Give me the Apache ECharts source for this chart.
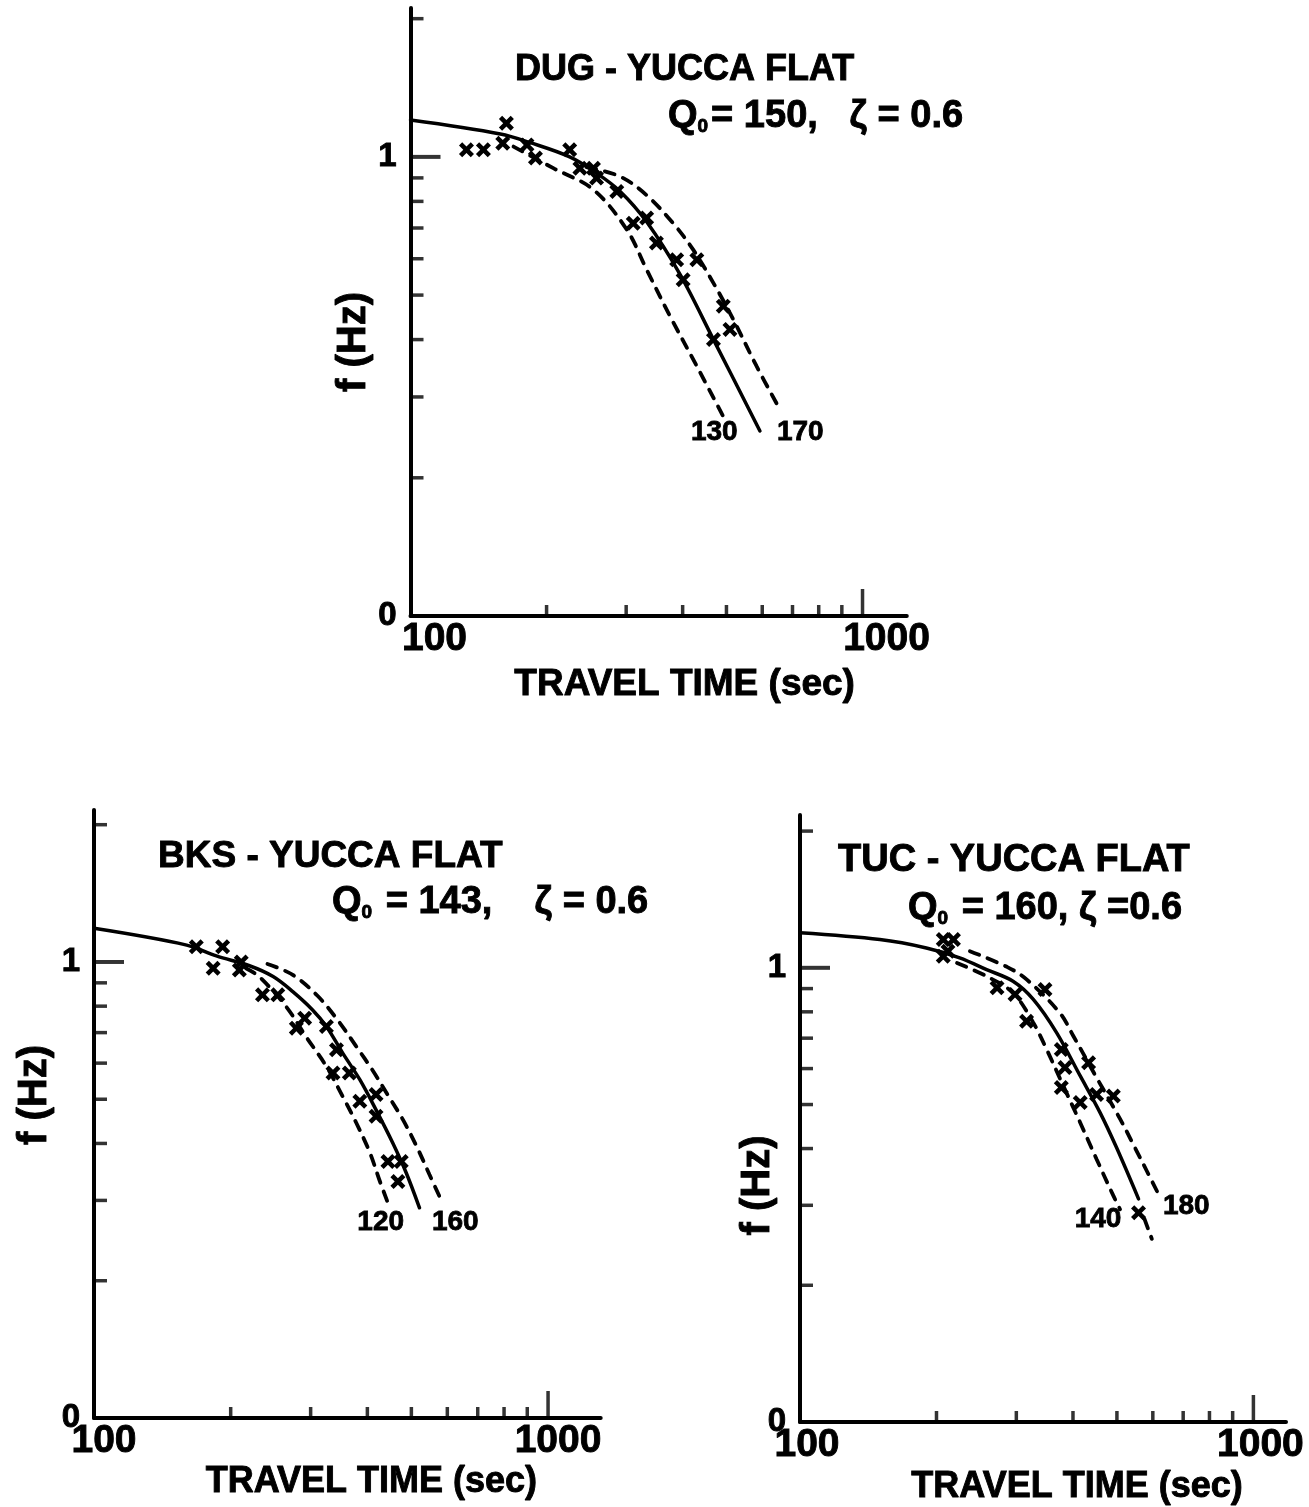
<!DOCTYPE html>
<html>
<head>
<meta charset="utf-8">
<script src="https://cdn.jsdelivr.net/npm/echarts@6.0.0/dist/echarts.min.js"></script>
<style>
  html, body { margin: 0; padding: 0; background: #ffffff; }
  #chart { width: 1309px; height: 1507px; }
</style>
</head>
<body>
<div id="chart"></div>
<script>
// ---- Axis decoration values (travel time in s, frequency in Hz) ----
const xMinorTicks = [200, 300, 400, 500, 600, 700, 800, 900];
const xMajorTicks = [1000];
const yMinorTicks = [0.2, 0.3, 0.4, 0.5, 0.6, 0.7, 0.8, 0.9, 2];
const yMajorTicks = [1];

// ---- DUG - Yucca Flat ----
const dugSolid = [[100, 1.203], [158, 1.122], [184, 1.074], [225, 1.0], [258, 0.922], [291, 0.841],
  [333, 0.722], [395, 0.554], [468, 0.40], [593, 0.253]];
const dugLow = [[169, 1.053], [207, 0.945], [254, 0.848], [301, 0.694], [333, 0.568], [375, 0.45],
  [430, 0.35], [492, 0.272]];
const dugHigh = [[245, 0.95], [291, 0.906], [333, 0.825], [381, 0.717], [422, 0.628], [468, 0.531],
  [518, 0.442], [583, 0.35], [651, 0.286]];
const dugObs = [[133, 1.036], [145, 1.036], [163, 1.184], [160, 1.071], [181, 1.062], [189, 0.994],
  [225, 1.036], [237, 0.945], [254, 0.945], [258, 0.899], [286, 0.841], [311, 0.717], [333, 0.736],
  [350, 0.649], [388, 0.597], [430, 0.597], [401, 0.54], [492, 0.473], [509, 0.421], [468, 0.40]];

// ---- BKS - Yucca Flat ----
const bksSolid = [[100, 1.185], [160, 1.089], [186, 1.031], [220, 0.981], [248, 0.929], [274, 0.861],
  [303, 0.785], [325, 0.722], [353, 0.631], [385, 0.552], [418, 0.474], [455, 0.401], [487, 0.345],
  [521, 0.289]];
const bksLow = [[216, 0.969], [231, 0.929], [265, 0.798], [293, 0.686], [325, 0.59], [353, 0.507],
  [378, 0.444], [405, 0.382], [425, 0.333], [448, 0.289]];
const bksHigh = [[241, 0.99], [274, 0.937], [311, 0.842], [344, 0.746], [378, 0.653], [411, 0.578],
  [448, 0.503], [479, 0.451], [513, 0.395], [548, 0.342], [582, 0.30]];
const bksObs = [[168, 1.08], [192, 1.08], [183, 0.969], [211, 1.0], [209, 0.96], [235, 0.847],
  [254, 0.847], [279, 0.716], [291, 0.753], [325, 0.722], [342, 0.642], [336, 0.571], [365, 0.571],
  [385, 0.495], [418, 0.512], [418, 0.459], [444, 0.365], [475, 0.365], [467, 0.33]];

// ---- TUC - Yucca Flat ----
const tucSolid = [[100, 1.194], [150, 1.154], [190, 1.106], [225, 1.052], [258, 0.991], [295, 0.934],
  [327, 0.852], [368, 0.72], [415, 0.578], [459, 0.48], [499, 0.402], [558, 0.31]];
const tucSolidTail = [[575, 0.28], [597, 0.253]];
const tucLow = [[222, 1.025], [258, 0.958], [295, 0.881], [327, 0.757], [350, 0.661], [381, 0.549],
  [415, 0.456], [451, 0.379], [491, 0.315], [508, 0.294]];
const tucHigh = [[237, 1.088], [286, 1.005], [316, 0.943], [374, 0.796], [401, 0.707], [451, 0.573],
  [508, 0.465], [543, 0.409], [582, 0.357], [617, 0.318]];
const tucObs = [[207, 1.154], [218, 1.154], [212, 1.088], [207, 1.06], [272, 0.904], [298, 0.874],
  [316, 0.763], [347, 0.896], [377, 0.661], [384, 0.603], [377, 0.545], [433, 0.618], [415, 0.505],
  [451, 0.526], [491, 0.522], [558, 0.289]];

const INK = '#000000';
const FONT = '"Liberation Sans", Arial, "DejaVu Sans", sans-serif';
// heavier lettering: fill plus a thin outline in the same ink
const HEAVY = { textBorderColor: INK, textBorderWidth: 0.9 };
// bold hand-lettered cross used for the observations
const CROSS = 'path://M0,3 L3,0 L7,4 L11,0 L14,3 L10,7 L14,11 L11,14 L7,10 L3,14 L0,11 L4,7 Z';

const panels = [
  {
    box: { left: 410.5, top: 8, width: 496.3, height: 608 }, xMax: 1253, yMax: 2.11,
    title: 'DUG - YUCCA FLAT', titleSize: 36, titlePos: [515, 52],
    sub: '= 150,   ζ = 0.6', subPos: [668, 98],
    solid: dugSolid, tail: null, low: dugLow, high: dugHigh, obs: dugObs,
    lowText: '130', highText: '170', lowOff: [-9, 16], highOff: [22, 26],
    xLabelShift: 24, xNameShift: 26, xNameGap: 50, xNameSize: 37, yNameGap: 37, yNameShift: 30
  },
  {
    box: { left: 94, top: 810, width: 506.7, height: 608 }, xMax: 1306, yMax: 2.154,
    title: 'BKS - YUCCA FLAT', titleSize: 37, titlePos: [158, 838],
    sub: ' = 143,    ζ = 0.6', subPos: [332, 884],
    solid: bksSolid, tail: null, low: bksLow, high: bksHigh, obs: bksObs,
    lowText: '120', highText: '160', lowOff: [-9, 14], highOff: [14, 22],
    xLabelShift: 10, xNameShift: 24, xNameGap: 46, xNameSize: 36, yNameGap: 39, yNameShift: -19
  },
  {
    box: { left: 800, top: 815, width: 486, height: 607 }, xMax: 1180, yMax: 2.17,
    title: 'TUC - YUCCA FLAT', titleSize: 38, titlePos: [838, 842],
    sub: ' = 160, ζ =0.6', subPos: [908, 890],
    solid: tucSolid, tail: tucSolidTail, low: tucLow, high: tucHigh, obs: tucObs,
    lowText: '140', highText: '180', lowOff: [-22, 10], highOff: [28, 12],
    xLabelShift: 7, xNameShift: 34, xNameGap: 47, xNameSize: 36, yNameGap: 22, yNameShift: 67
  }
];

function near(v, target) { return Math.abs(v - target) / target < 1e-6; }

const grids = [], xAxes = [], yAxes = [], series = [], titles = [];

panels.forEach((p, i) => {
  grids.push(Object.assign({ containLabel: false, outerBoundsMode: 'none' }, p.box));

  xAxes.push({
    type: 'log', logBase: 10, gridIndex: i, min: 100, max: p.xMax,
    axisLine: { show: true, onZero: false, lineStyle: { color: INK, width: 4 } },
    axisTick: { show: false }, splitLine: { show: false }, minorTick: { show: false },
    axisLabel: Object.assign({
      color: INK, fontFamily: FONT, fontWeight: 'bold', fontSize: 39, margin: 4,
      padding: [0, 0, 0, p.xLabelShift * 2],
      formatter: v => near(v, 100) ? '100' : (near(v, 1000) ? '1000' : '')
    }, HEAVY),
    name: 'TRAVEL TIME (sec)', nameLocation: 'middle', nameGap: p.xNameGap, nameMoveOverlap: false,
    nameTextStyle: Object.assign({
      color: INK, fontFamily: FONT, fontWeight: 'bold', fontSize: p.xNameSize,
      padding: [0, 0, 0, p.xNameShift * 2]
    }, HEAVY)
  });

  const yPad = p.yNameShift >= 0 ? [0, p.yNameShift * 2, 0, 0] : [0, 0, 0, -p.yNameShift * 2];
  yAxes.push({
    type: 'log', logBase: 10, gridIndex: i, min: 0.1, max: p.yMax,
    axisLine: { show: true, onZero: false, lineStyle: { color: INK, width: 4 } },
    axisTick: { show: false }, splitLine: { show: false }, minorTick: { show: false },
    axisLabel: Object.assign({
      color: INK, fontFamily: FONT, fontWeight: 'bold', fontSize: 33, margin: 14,
      formatter: v => near(v, 0.1) ? '0' : (near(v, 1) ? '1' : '')
    }, HEAVY),
    name: 'f (Hz)', nameLocation: 'middle', nameRotate: 90, nameGap: p.yNameGap, nameMoveOverlap: false,
    nameTextStyle: Object.assign({ color: INK, fontFamily: FONT, fontWeight: 'bold', fontSize: 40,
      padding: yPad }, HEAVY)
  });

  const base = { xAxisIndex: i, yAxisIndex: i, silent: true, animation: false };
  const solidStyle = { color: INK, width: 3.5, cap: 'round', join: 'round' };
  const dashStyle = { color: INK, width: 3.8, type: [10, 9], cap: 'round' };

  series.push(Object.assign({ type: 'line', data: p.solid, symbol: 'none', smooth: 0.35,
    lineStyle: solidStyle, z: 3 }, base));
  if (p.tail) {
    series.push(Object.assign({ type: 'line', data: p.tail, symbol: 'none',
      lineStyle: dashStyle, z: 3 }, base));
  }
  series.push(Object.assign({ type: 'line', data: p.low, symbol: 'none', smooth: 0.35,
    lineStyle: dashStyle, z: 3 }, base));
  series.push(Object.assign({ type: 'line', data: p.high, symbol: 'none', smooth: 0.35,
    lineStyle: dashStyle, z: 3 }, base));
  series.push(Object.assign({ type: 'scatter', data: p.obs, symbol: CROSS, symbolSize: 15,
    itemStyle: { color: INK, opacity: 1 }, z: 5 }, base));

  // inward tick marks on both axes
  series.push(Object.assign({ type: 'scatter', data: xMinorTicks.map(v => [v, 0.1]), symbol: 'rect',
    symbolSize: [3.5, 11], symbolOffset: [0, -5.5], itemStyle: { color: INK }, clip: false, z: 6 }, base));
  series.push(Object.assign({ type: 'scatter', data: xMajorTicks.map(v => [v, 0.1]), symbol: 'rect',
    symbolSize: [3.5, 27], symbolOffset: [0, -13.5], itemStyle: { color: INK }, clip: false, z: 6 }, base));
  series.push(Object.assign({ type: 'scatter', data: yMinorTicks.map(v => [100, v]), symbol: 'rect',
    symbolSize: [13, 3.5], symbolOffset: [6.5, 0], itemStyle: { color: INK }, clip: false, z: 6 }, base));
  series.push(Object.assign({ type: 'scatter', data: yMajorTicks.map(v => [100, v]), symbol: 'rect',
    symbolSize: [30, 4], symbolOffset: [15, 0], itemStyle: { color: INK }, clip: false, z: 6 }, base));

  titles.push({
    text: p.title, left: p.titlePos[0], top: p.titlePos[1], padding: 0,
    textStyle: Object.assign({ color: INK, fontFamily: FONT, fontWeight: 'bold', fontSize: p.titleSize }, HEAVY)
  });
  titles.push({
    text: '{q|Q}{s|0}{q|' + p.sub + '}', left: p.subPos[0], top: p.subPos[1], padding: 0,
    textStyle: {
      rich: {
        q: Object.assign({ color: INK, fontFamily: FONT, fontWeight: 'bold', fontSize: 38 }, HEAVY),
        s: Object.assign({ color: INK, fontFamily: FONT, fontWeight: 'bold', fontSize: 19,
             verticalAlign: 'bottom', padding: [0, 3, 0, 0] }, HEAVY)
      }
    }
  });
});

const chart = echarts.init(document.getElementById('chart'), null, { renderer: 'canvas' });
chart.setOption({
  backgroundColor: '#ffffff',
  animation: false,
  title: titles,
  grid: grids,
  xAxis: xAxes,
  yAxis: yAxes,
  series: series
});

// curve identifiers placed next to the end of each dashed curve
const curveLabels = [];
panels.forEach((p, i) => {
  [[p.low, p.lowText, p.lowOff], [p.high, p.highText, p.highOff]].forEach(([arr, txt, off]) => {
    const pt = chart.convertToPixel({ gridIndex: i }, arr[arr.length - 1]);
    curveLabels.push({
      type: 'text', x: pt[0] + off[0], y: pt[1] + off[1], silent: true, z: 10,
      style: {
        text: txt, fill: INK, stroke: INK, lineWidth: 0.8,
        fontFamily: FONT, fontWeight: 'bold', fontSize: 28,
        align: 'center', verticalAlign: 'middle', textAlign: 'center', textVerticalAlign: 'middle'
      }
    });
  });
});
chart.setOption({ graphic: curveLabels });
</script>
</body>
</html>
